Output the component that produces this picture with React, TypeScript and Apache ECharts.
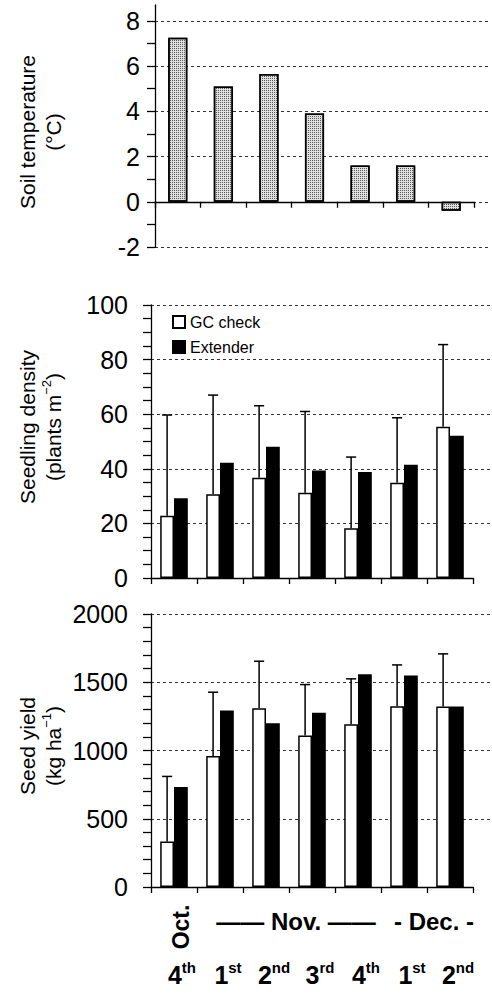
import React, { useEffect, useRef } from 'react';
import * as echarts from 'echarts';

// ---------- data ----------
const categories = ['4th', '1st', '2nd', '3rd', '4th', '1st', '2nd'];
const soilTemperature = [7.25, 5.1, 5.65, 3.9, 1.6, 1.6, -0.4];

const densityGC = [22.8, 30.7, 36.7, 31.2, 18.2, 34.9, 55.4];
const densityExtender = [29.2, 42.2, 48.1, 39.4, 38.8, 41.5, 52.1];
const densityGCErrorTop = [59.7, 67.0, 63.1, 61.0, 44.3, 58.7, 85.5];

const yieldGC = [334, 959, 1310, 1110, 1193, 1325, 1322];
const yieldExtender = [732, 1293, 1200, 1276, 1559, 1549, 1322];
const yieldGCErrorTop = [810, 1427, 1654, 1483, 1525, 1627, 1708];

const tempTicks = [-2, -1, 0, 1, 2, 3, 4, 5, 6, 7, 8];
const tempLabels = [-2, 0, 2, 4, 6, 8];
const densityTicks = [0, 5, 10, 15, 20, 25, 30, 35, 40, 45, 50, 55, 60, 65, 70, 75, 80, 85, 90, 95, 100];
const densityLabels = [0, 20, 40, 60, 80, 100];
const yieldTicks = [0, 100, 200, 300, 400, 500, 600, 700, 800, 900, 1000, 1100, 1200, 1300, 1400, 1500, 1600, 1700, 1800, 1900, 2000];
const yieldLabels = [0, 500, 1000, 1500, 2000];

const months = [
  { label: 'Oct.', first: 0, last: 0, vertical: true },
  { label: '—— Nov. ——', first: 1, last: 4, vertical: false },
  { label: '- Dec. -', first: 5, last: 6, vertical: false },
];

const legendNames = ['GC check', 'Extender'];

// ---------- style ----------
const FONT = '"Liberation Sans", Arial, Helvetica, sans-serif';
const BLACK = '#000';

// pad: the gridline helper grid reaches 1px above the top of the axis so the top gridline is inside it
const panels = [
  { top: 5, height: 242, left: 155, width: 319, wideWidth: 335, pad: 0, labelMargin: 15 },
  { top: 305, height: 273, left: 151, width: 322, wideWidth: 339, pad: 1, labelMargin: 23 },
  { top: 614, height: 273, left: 151, width: 322, wideWidth: 339, pad: 1, labelMargin: 23 },
];

const axisLineStyle = { color: BLACK, width: 1.3 };
const dashStyle = { type: [3, 3] as any, color: '#333', width: 1 };

function narrowX(gridIndex: number, withLabels: boolean) {
  return {
    type: 'category',
    gridIndex,
    data: categories,
    axisLine: { show: true, onZero: true, lineStyle: axisLineStyle },
    axisTick: { show: true, length: 6, alignWithLabel: false, lineStyle: axisLineStyle },
    axisLabel: withLabels
      ? {
          show: true,
          interval: 0,
          margin: 73,
          padding: [0, 0, 0, 16],
          formatter: (v: string) => `{n|${v.slice(0, 1)}}{s|${v.slice(1)}}`,
          rich: {
            n: { fontSize: 25, fontWeight: 'bold', fontFamily: FONT, color: BLACK, lineHeight: 30 },
            s: { fontSize: 15, fontWeight: 'bold', fontFamily: FONT, color: BLACK, verticalAlign: 'top', lineHeight: 30 },
          },
        }
      : { show: false },
    splitLine: { show: false },
  };
}

function wideX(gridIndex: number) {
  return { type: 'category', gridIndex, data: categories, show: false };
}

function narrowY(gridIndex: number, min: number, max: number, interval: number, ticks: number[], labels: number[], margin: number) {
  return {
    type: 'value',
    gridIndex,
    min,
    max,
    interval,
    axisLine: { show: true, lineStyle: axisLineStyle },
    axisTick: { show: true, length: 8, customValues: ticks, lineStyle: axisLineStyle },
    axisLabel: {
      show: true,
      customValues: labels,
      formatter: (v: number) => String(v),
      fontSize: 25,
      fontFamily: FONT,
      color: BLACK,
      margin,
    },
    splitLine: { show: false },
  };
}

function wideY(gridIndex: number, min: number, max: number, interval: number, showMin: boolean) {
  return {
    type: 'value',
    gridIndex,
    min,
    max,
    interval,
    axisLine: { show: false },
    axisTick: { show: false },
    axisLabel: { show: false },
    splitLine: { show: true, showMinLine: showMin, showMaxLine: false, lineStyle: dashStyle },
  };
}

function errorRender(_params: any, api: any) {
  const idx = api.value(0);
  const base = api.coord([idx, api.value(1)]);
  const top = api.coord([idx, api.value(2)]);
  const band = api.size([1, 0])[0];
  const x = base[0] - band * 0.15;
  const cap = band * 0.11;
  const st = { stroke: BLACK, lineWidth: 1.5 };
  return {
    type: 'group',
    children: [
      { type: 'line', shape: { x1: x, y1: base[1], x2: x, y2: top[1] }, style: st },
      { type: 'line', shape: { x1: x - cap, y1: top[1], x2: x + cap, y2: top[1] }, style: st },
    ],
  };
}

function pairSeries(xIdx: number, gc: number[], ext: number[], err: number[]) {
  return [
    {
      name: legendNames[0],
      type: 'bar',
      xAxisIndex: xIdx,
      yAxisIndex: xIdx,
      data: gc,
      barWidth: '30%',
      barGap: '0%',
      itemStyle: { color: '#fff', borderColor: BLACK, borderWidth: 1.5 },
    },
    {
      name: legendNames[1],
      type: 'bar',
      xAxisIndex: xIdx,
      yAxisIndex: xIdx,
      data: ext,
      barWidth: '30%',
      barGap: '0%',
      itemStyle: { color: BLACK, borderColor: BLACK, borderWidth: 1.5 },
    },
    {
      name: 'error',
      type: 'custom',
      xAxisIndex: xIdx,
      yAxisIndex: xIdx,
      renderItem: errorRender,
      encode: { x: 0, y: [1, 2] },
      data: categories.map((_, i) => [i, gc[i], err[i]]),
      z: 5,
    },
  ];
}

function titleText(x: number, y: number, text: string) {
  return {
    type: 'text',
    x,
    y,
    rotation: Math.PI / 2,
    style: {
      text,
      fontSize: 21,
      fontFamily: FONT,
      fill: BLACK,
      align: 'center',
      verticalAlign: 'middle',
      textAlign: 'center',
      textVerticalAlign: 'middle',
      lineHeight: 26,
      rich: { sup: { fontSize: 13, fontFamily: FONT, fill: BLACK, verticalAlign: 'top', lineHeight: 26 } },
    },
  };
}

export default function App() {
  const ref = useRef<HTMLDivElement>(null);
  useEffect(() => {
    if (!ref.current) return;
    const chart = echarts.init(ref.current, undefined, { renderer: 'svg' });
    const grids: any[] = [];
    panels.forEach((p) => {
      grids.push({ left: p.left, top: p.top, width: p.width, height: p.height, containLabel: false });
      grids.push({ left: p.left, top: p.top - p.pad, width: p.wideWidth, height: p.height + p.pad, containLabel: false });
    });
    // helper-grid max values that keep the same scale with the extra pad pixel
    const wideMax = (max: number, min: number, p: any) => max + ((max - min) * p.pad) / p.height;
    const titles = [
      titleText(40, 132, 'Soil temperature\n(°C)'),
      titleText(40, 427, 'Seedling density\n(plants m{sup|−2})'),
      titleText(40, 746, 'Seed yield\n(kg ha{sup|−1})'),
    ];
    const option: any = {
      animation: false,
      backgroundColor: '#fff',
      textStyle: { fontFamily: FONT },
      grid: grids,
      legend: {
        data: legendNames,
        orient: 'vertical',
        left: 167,
        top: 309,
        itemWidth: 12,
        itemHeight: 12,
        itemGap: 9,
        icon: 'rect',
        selectedMode: false,
        textStyle: { fontSize: 16, color: BLACK, fontFamily: FONT },
      },
      xAxis: [narrowX(0, false), wideX(1), narrowX(2, false), wideX(3), narrowX(4, true), wideX(5)],
      yAxis: [
        narrowY(0, -2, 8.7, 2, tempTicks, tempLabels, panels[0].labelMargin),
        wideY(1, -2, 8.7, 2, true),
        narrowY(2, 0, 100, 20, densityTicks, densityLabels, panels[1].labelMargin),
        wideY(3, 0, wideMax(100, 0, panels[1]), 20, false),
        narrowY(4, 0, 2000, 500, yieldTicks, yieldLabels, panels[2].labelMargin),
        wideY(5, 0, wideMax(2000, 0, panels[2]), 500, false),
      ],
      series: [
        {
          name: 'Soil temperature',
          type: 'bar',
          xAxisIndex: 0,
          yAxisIndex: 0,
          data: soilTemperature,
          barWidth: '42%',
          itemStyle: {
            color: '#e0e0e0',
            borderColor: BLACK,
            borderWidth: 1.5,
            decal: {
              symbol: 'rect',
              symbolSize: 1,
              color: '#555',
              dashArrayX: [1, 1],
              dashArrayY: [1, 1],
            },
          },
        },
        ...pairSeries(2, densityGC, densityExtender, densityGCErrorTop),
        ...pairSeries(4, yieldGC, yieldExtender, yieldGCErrorTop),
      ],
      graphic: titles,
    };
    chart.setOption(option);

    const xOf = (i: number) => chart.convertToPixel({ xAxisIndex: 4 }, i) as unknown as number;
    const monthGraphics = months.map((m) => {
      const cx = (xOf(m.first) + xOf(m.last)) / 2 + 7;
      return {
        type: 'text',
        x: cx,
        y: m.vertical ? 927 : 921,
        rotation: m.vertical ? Math.PI / 2 : 0,
        style: {
          text: m.label,
          fontSize: m.vertical ? 23 : 24,
          fontWeight: 'bold',
          fontFamily: FONT,
          fill: BLACK,
          align: 'center',
          verticalAlign: 'middle',
          textAlign: 'center',
          textVerticalAlign: 'middle',
        },
      };
    });
    chart.setOption({ graphic: [...titles, ...monthGraphics] });
    return () => chart.dispose();
  }, []);
  return <div ref={ref} style={{ position: 'fixed', left: 0, top: 0, width: 492, height: 993 }} />;
}
